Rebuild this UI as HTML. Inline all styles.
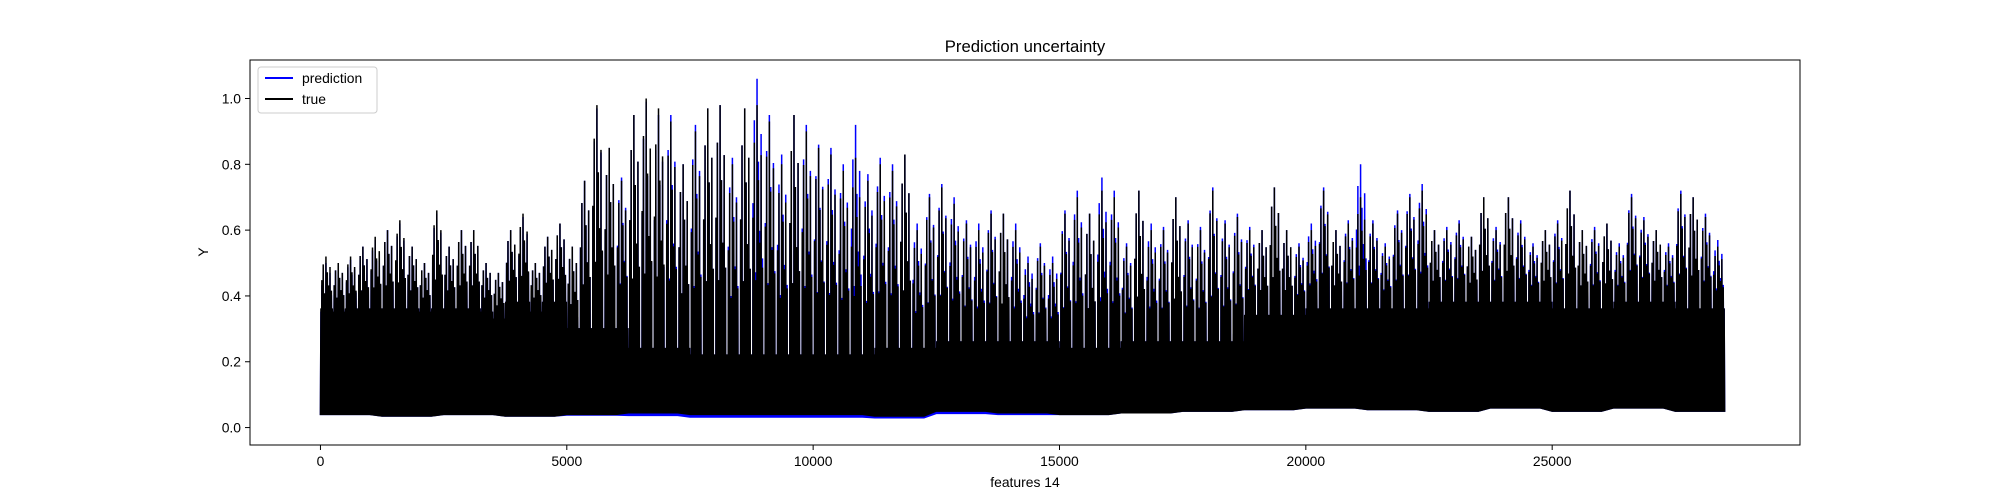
<!DOCTYPE html>
<html><head><meta charset="utf-8">
<style>
html,body{margin:0;padding:0;background:#fff;}
svg{display:block;font-family:"Liberation Sans","DejaVu Sans",sans-serif;}
</style></head>
<body>
<svg id="chart" width="2000" height="500" viewBox="0 0 2000 500" xmlns="http://www.w3.org/2000/svg">
<rect x="0" y="0" width="2000" height="500" fill="#fff"/>
<text x="1025" y="52" font-size="16.7" text-anchor="middle">Prediction uncertainty</text>
<g id="plot"></g>
<g id="axes"></g>
<text x="1025" y="487" font-size="13.9" text-anchor="middle">features 14</text>
<text x="0" y="0" font-size="13.9" text-anchor="middle" transform="translate(208,252) rotate(-90)">Y</text>
<g>
<rect x="258" y="67" width="119" height="46" rx="3" fill="#fff" fill-opacity="0.8" stroke="#ccc"/>
<line x1="265" y1="78" x2="293" y2="78" stroke="#0000ff" stroke-width="2"/>
<text x="302" y="83" font-size="13.9">prediction</text>
<line x1="265" y1="99" x2="293" y2="99" stroke="#000" stroke-width="2"/>
<text x="302" y="104" font-size="13.9">true</text>
</g>
</svg>
<script>
// bin size in samples
const binSize = 250;
const truePeaks = [0.52,0.5,0.52,0.55,0.58,0.6,0.63,0.55,0.5,0.66,0.55,0.6,0.6,0.5,0.47,0.6,0.65,0.5,0.58,0.62,
0.55,0.75,0.98,0.85,0.75,0.95,1.0,0.97,0.93,0.8,0.9,0.97,0.98,0.8,0.97,0.98,0.93,0.8,0.95,0.9,
0.85,0.83,0.78,0.82,0.75,0.8,0.78,0.83,0.6,0.7,0.73,0.68,0.62,0.6,0.65,0.65,0.6,0.5,0.55,0.5,
0.65,0.7,0.65,0.72,0.7,0.55,0.72,0.6,0.6,0.7,0.62,0.6,0.72,0.62,0.64,0.6,0.6,0.73,0.6,0.55,
0.6,0.72,0.6,0.62,0.7,0.62,0.55,0.65,0.7,0.72,0.6,0.6,0.62,0.58,0.7,0.6,0.7,0.62,0.55,0.6,
0.62,0.72,0.6,0.6,0.62,0.55,0.7,0.63,0.6,0.55,0.71,0.7,0.64,0.55];
const predPeaks = [0.5,0.5,0.51,0.55,0.57,0.6,0.62,0.55,0.5,0.65,0.55,0.6,0.6,0.5,0.47,0.6,0.64,0.5,0.58,0.62,
0.55,0.75,0.97,0.85,0.76,0.95,0.99,0.95,0.95,0.8,0.92,0.97,0.98,0.82,0.97,1.06,0.95,0.83,0.95,0.92,
0.86,0.85,0.8,0.92,0.77,0.82,0.8,0.83,0.62,0.71,0.74,0.7,0.63,0.62,0.66,0.65,0.62,0.52,0.56,0.52,
0.66,0.72,0.65,0.76,0.72,0.56,0.72,0.62,0.61,0.7,0.63,0.61,0.73,0.63,0.65,0.61,0.6,0.73,0.6,0.56,
0.62,0.73,0.6,0.63,0.8,0.63,0.56,0.66,0.71,0.74,0.6,0.61,0.63,0.58,0.7,0.61,0.7,0.63,0.56,0.6,
0.63,0.72,0.6,0.61,0.62,0.56,0.71,0.64,0.6,0.56,0.72,0.7,0.65,0.57];
const trueLows = [0.04,0.035,0.04,0.035,0.04,0.045,0.04,0.04,0.04,0.035,
0.05,0.045,0.04,0.045,0.05,0.055,0.06,0.055,0.05,0.06,0.05,0.06,0.05];
const predLows = [0.04,0.035,0.04,0.035,0.038,0.037,0.032,0.032,0.032,0.03,
0.043,0.04,0.04,0.045,0.05,0.055,0.06,0.055,0.05,0.06,0.05,0.06,0.05];
const bodyLevels = [0.36,0.36,0.36,0.38,0.3,0.24,0.22,0.22,0.22,0.24,0.26,0.26,0.24,0.26,0.26,0.34,0.36,0.36,0.38,0.38,0.36,0.38,0.36];
const xTicks = [0,5000,10000,15000,20000,25000];
const xTickLabels = ["0","5000","10000","15000","20000","25000"];
const yTicks = [0,0.2,0.4,0.6,0.8,1.0];
const yTickLabels = ["0.0","0.2","0.4","0.6","0.8","1.0"];

const L=250,R=1800,T=60,B=445;
const xMin=-1430,xMax=30030,yMin=-0.053,yMax=1.117;
const sx=v=>L+(v-xMin)/(xMax-xMin)*(R-L);
const sy=v=>B-(v-yMin)/(yMax-yMin)*(B-T);
const NS="http://www.w3.org/2000/svg";
const plot=document.getElementById('plot');
const axes=document.getElementById('axes');
// rendering pattern for sub-spikes inside each bin (style, not data)
const spikeStyle=[0.55,0.85,0.3,1.0,0.7,0.45,0.8,0.35];

function seriesPath(peaks,lows){
  let d="";
  peaks.forEach((p,i)=>{
    const x0=i*binSize, w=binSize;
    const seg=Math.min(Math.floor(i/5),lows.length-1);
    const lo=lows[seg];
    const body=Math.min(bodyLevels[seg],p*0.7);
    const pts=[[x0,lo],[x0+0.04*w,body]];
    const n=spikeStyle.length;
    spikeStyle.forEach((f,k)=>{
      const xc=x0+(0.06+0.88*(k+0.5)/n)*w;
      pts.push([xc-0.01*w,body]);
      pts.push([xc,body+(p-body)*f]);
      pts.push([xc+0.01*w,body]);
    });
    pts.push([x0+0.96*w,body]);
    pts.forEach((q,k)=>{d+=(i===0&&k===0?"M":"L")+sx(q[0]).toFixed(2)+","+sy(q[1]).toFixed(2);});
  });
  const lastX=peaks.length*binSize;
  d+="L"+sx(lastX).toFixed(2)+","+sy(lows[lows.length-1]).toFixed(2);
  for(let i=peaks.length-1;i>=0;i--){
    const seg=Math.min(Math.floor(i/5),lows.length-1);
    d+="L"+sx(i*binSize).toFixed(2)+","+sy(lows[seg]).toFixed(2);
  }
  return d+"Z";
}
const pp=document.createElementNS(NS,'path');
pp.setAttribute('d',seriesPath(predPeaks,predLows));
pp.setAttribute('fill','#0000ff');pp.setAttribute('stroke','#0000ff');pp.setAttribute('stroke-width','1.5');pp.setAttribute('stroke-linejoin','miter');


plot.appendChild(pp);
const tp=document.createElementNS(NS,'path');
tp.setAttribute('d',seriesPath(truePeaks,trueLows));
tp.setAttribute('fill','#000');tp.setAttribute('stroke','#000');tp.setAttribute('stroke-width','1.5');


plot.appendChild(tp);

const frame=document.createElementNS(NS,'rect');
frame.setAttribute('x',L);frame.setAttribute('y',T);frame.setAttribute('width',R-L);frame.setAttribute('height',B-T);
frame.setAttribute('fill','none');frame.setAttribute('stroke','#000');frame.setAttribute('stroke-width','1');


axes.appendChild(frame);

xTicks.forEach((v,i)=>{
  const x=sx(v);
  const t=document.createElementNS(NS,'line');
  t.setAttribute('x1',x);t.setAttribute('x2',x);t.setAttribute('y1',B);t.setAttribute('y2',B+5);t.setAttribute('stroke','#000');
  
  
  axes.appendChild(t);
  const s=document.createElementNS(NS,'text');
  s.setAttribute('x',x);s.setAttribute('y',B+21);s.setAttribute('font-size','13.9');s.setAttribute('text-anchor','middle');
  s.textContent=xTickLabels[i];
  
  
  axes.appendChild(s);
});
yTicks.forEach((v,i)=>{
  const y=sy(v);
  const t=document.createElementNS(NS,'line');
  t.setAttribute('x1',L-5);t.setAttribute('x2',L);t.setAttribute('y1',y);t.setAttribute('y2',y);t.setAttribute('stroke','#000');
  
  
  axes.appendChild(t);
  const s=document.createElementNS(NS,'text');
  s.setAttribute('x',L-9);s.setAttribute('y',y+5);s.setAttribute('font-size','13.9');s.setAttribute('text-anchor','end');
  s.textContent=yTickLabels[i];
  
  
  axes.appendChild(s);
});
</script>
</body></html>
